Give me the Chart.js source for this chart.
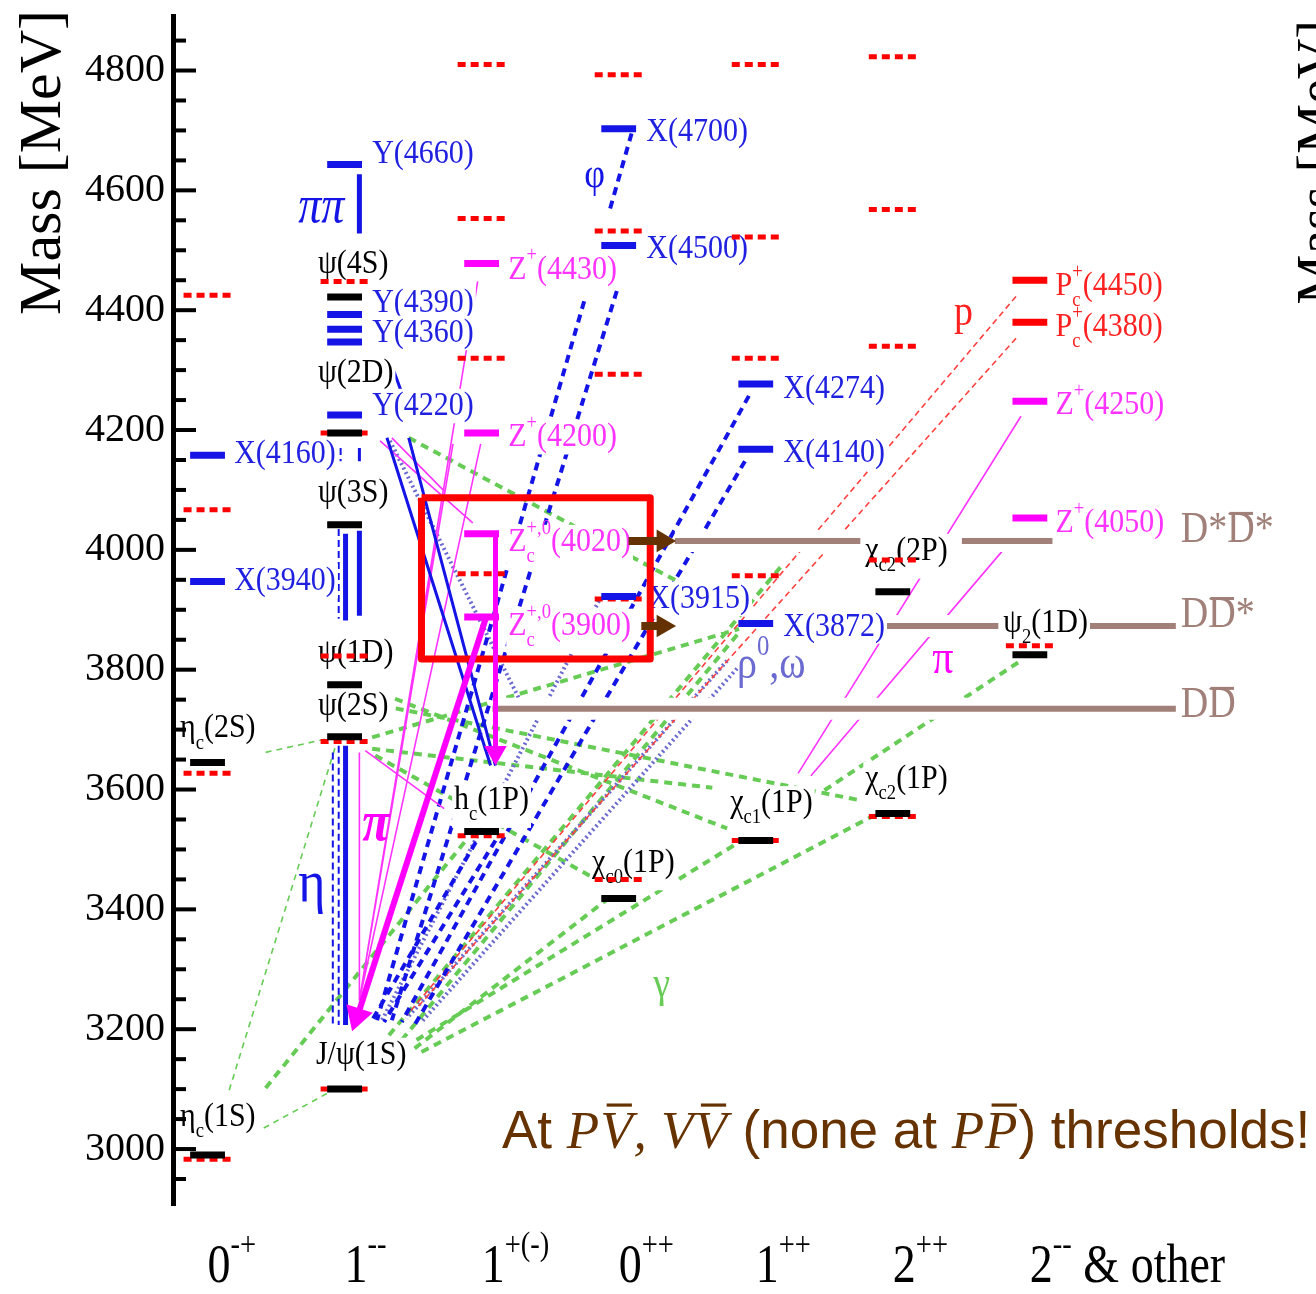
<!DOCTYPE html>
<html>
<head>
<meta charset="utf-8">
<script src="https://cdn.jsdelivr.net/npm/chart.js@4.4.1/dist/chart.umd.min.js"></script>
<style>
  html, body { margin: 0; padding: 0; background: #fff; }
  canvas { display: block; }
</style>
</head>
<body>
<canvas id="levels" width="1316" height="1294"></canvas>
<script>
const SERIF = '"Liberation Serif", "DejaVu Serif", serif';
const SANS = '"Liberation Sans", Arial, sans-serif';
const STRETCH = 1.15;

// J^PC columns along the x axis
const columnLabels = ['0^{-+}', '1^{--}', '1^{+(-)}', '0^{++}', '1^{++}', '2^{++}', '2^{--} & other'];

// levels: [column, mass in MeV]
const charmonia = [[0, 2990], [0, 3645], [1, 3100], [1, 3688], [1, 3775], [1, 4042], [1, 4195], [1, 4422],
  [2, 3530], [3, 3418], [4, 3515], [5, 3560], [5, 3930], [6, 3825]];
const predicted = [[0, 2983], [0, 3627], [0, 4067], [0, 4425], [1, 3100], [1, 3680], [1, 3823], [1, 4195], [1, 4448],
  [2, 3523], [2, 3960], [2, 4320], [2, 4553], [2, 4810], [3, 3450], [3, 3918], [3, 4293], [3, 4532], [3, 4793],
  [4, 3515], [4, 3957], [4, 4320], [4, 4522], [4, 4810], [5, 3555], [5, 3983], [5, 4340], [5, 4568], [5, 4823], [6, 3840]];
const neutralXY = [[0, 4158], [0, 3947], [1, 4643], [1, 4393], [1, 4368], [1, 4347], [1, 4225],
  [3, 4703], [3, 4508], [3, 3922], [4, 4277], [4, 4168], [4, 3877]];
const chargedZ = [[2, 4478], [2, 4195], [2, 4027], [2, 3888], [6, 4248], [6, 4053]];
const pentaquarks = [[6, 4450], [6, 4380]];

// open-charm thresholds
const thresholdMass = [4015, 3873, 3735];
const thresholdSpans = [[[3.41, 4.763], [5.504, 6.165]], [[4.957, 5.77], [6.417, 7.065]], [[2.079, 7.065]]];

// transitions: [column from, mass from, column to, mass to]
const radiative = [[1.511, 3168, 2.906, 3415], [1.525, 3182, 3.863, 3510], [1.561, 3162, 4.849, 3555],
  [0.424, 3102, 1.885, 3515], [1.468, 4187, 3.899, 3890], [1.201, 3687, 3.878, 3868], [1.417, 3182, 3.878, 3862],
  [1.273, 3760, 3.791, 3535], [1.273, 3740, 4.763, 3582], [1.223, 3657, 2.82, 3452], [1.201, 3668, 3.683, 3603],
  [1.324, 3190, 4.187, 3973], [5.914, 3812, 4.496, 3598]];
const radiativeThin = [[0.158, 3098, 0.935, 3673], [0.41, 3035, 0.914, 3098], [0.424, 3662, 0.878, 3685]];
const hadronicDashed = [[3.094, 4695, 2.928, 4562], [2.986, 4432, 1.345, 3215], [2.748, 4415, 1.237, 3215],
  [3.95, 4257, 1.417, 3212], [3.921, 4148, 1.511, 3207], [2.101, 3515, 1.288, 3212], [1.957, 3512, 1.201, 3215]];
const etaDashed = [[0.957, 4035, 0.957, 3885], [0.971, 4170, 0.971, 4148], [0.914, 3662, 0.914, 3207], [0.957, 3673, 0.957, 3207]];
const hadronicSolid = [[1.309, 4187, 2.065, 3640], [1.468, 4187, 2.101, 3640], [1.36, 4298, 1.417, 4262], [1.108, 4170, 1.108, 4148]];
const dipionSolid = [[1.007, 3673, 1.007, 3207], [1.108, 4627, 1.108, 4528], [1.007, 4027, 1.007, 3882], [1.108, 4032, 1.108, 3890]];
const lightMeson = [[3.863, 3802, 1.561, 3212], [3.791, 3815, 1.453, 3218], [2.856, 3915, 1.273, 3215], [1.331, 4182, 2.281, 3748]];
const protonEmission = [[5.899, 4423, 1.453, 3223], [5.899, 4353, 1.525, 3235]];
const pionEmission = [[1.971, 4448, 1.108, 3248], [1.993, 4177, 1.108, 3248], [1.791, 4177, 1.108, 3248],
  [1.259, 4182, 1.935, 4045], [1.345, 4187, 1.727, 4098], [1.151, 3665, 1.727, 3568],
  [5.935, 4223, 4.309, 3627], [5.806, 4000, 4.403, 3623], [1.108, 3662, 1.108, 3248]];

// highlighted decays: shaft [from, to], head centre + a point behind it
const zcShafts = [[2.101, 4027, 2.101, 3662], [2.029, 3885, 1.094, 3222]];
const zcHeads = [[2.101, 3662, 2.101, 4027], [1.091, 3222, 2.029, 3885]];
const openCharmShafts = [[3.072, 4015, 3.3, 4015], [3.165, 3873, 3.3, 3873]];
const openCharmHeads = [[3.324, 4015, 3.0, 4015], [3.324, 3873, 3.0, 3873]];
const boxCorners = [[1.561, 4087], [3.23, 4087], [3.23, 3818], [1.561, 3818], [1.561, 4087]];

// names: [text, column of left edge, mass of text middle]
const charmoniumNames = [['η_c(1S)', -0.201, 3053], ['η_c(2S)', -0.201, 3702], ['J/ψ(1S)', 0.791, 3157],
  ['ψ(2S)', 0.806, 3740], ['ψ(1D)', 0.806, 3828], ['ψ(3S)', 0.806, 4095], ['ψ(2D)', 0.806, 4295], ['ψ(4S)', 0.806, 4477],
  ['h_c(1P)', 1.799, 3582], ['χ_{c0}(1P)', 2.806, 3478], ['χ_{c1}(1P)', 3.813, 3577], ['χ_{c2}(1P)', 4.799, 3618],
  ['χ_{c2}(2P)', 4.799, 3998], ['ψ_2(1D)', 5.806, 3878]];
const xyNames = [['X(4160)', 0.194, 4160], ['X(3940)', 0.194, 3948], ['Y(4660)', 1.201, 4660], ['Y(4390)', 1.201, 4412],
  ['Y(4360)', 1.201, 4362], ['Y(4220)', 1.201, 4240], ['X(4700)', 3.201, 4698], ['X(4500)', 3.201, 4502],
  ['X(3915)', 3.216, 3918], ['X(4274)', 4.201, 4268], ['X(4140)', 4.201, 4162], ['X(3872)', 4.201, 3872]];
const zNames = [['Z^+(4430)', 2.194, 4468], ['Z^+(4200)', 2.194, 4188], ['Z_c^{+,0}(4020)', 2.194, 4013],
  ['Z_c^{+,0}(3900)', 2.194, 3873], ['Z^+(4250)', 6.187, 4242], ['Z^+(4050)', 6.187, 4045]];
const pcNames = [['P_c^+(4450)', 6.187, 4440], ['P_c^+(4380)', 6.187, 4372]];
const thresholdNames = [['D*~D*', 7.101, 4032], ['D~D*', 7.101, 3890], ['D~D', 7.101, 3740]];
const processNames = [['ππ', 0.662, 4570], ['φ', 2.748, 4623], ['η', 0.662, 3440], ['π', 1.129, 3540],
  ['γ', 3.252, 3273], ['p', 5.446, 4395], ['π', 5.288, 3815], ['ρ^0,ω', 3.863, 3807]];
const processColors = ['#1414e6', '#1414e6', '#1414e6', '#ff00ff', '#66cc55', '#ff2020', '#ff00ff', '#6a6ad0'];
const processSizes = [46, 36, 52, 50, 38, 38, 42, 40];
const processStyles = ['italic', '', '', 'italic bold', '', '', '', ''];

const noteRuns = [['At ', 'sans'], ['P', 'math'], ['V', 'mathbar'], [', ', 'math'], ['V', 'math'], ['V', 'mathbar'],
  [' (none at ', 'sans'], ['P', 'math'], ['P', 'mathbar'], [') thresholds!', 'sans']];

function segData(list) {
  const out = [];
  list.forEach(s => { out.push({x: s[0], y: s[1]}, {x: s[2], y: s[3]}, {x: s[2], y: null}); });
  return out;
}
function barData(levels, hw) {
  return segData(levels.map(l => [l[0] - hw, l[1], l[0] + hw, l[1]]));
}
function lineSet(label, data, color, width, dash, order) {
  return {label, data, borderColor: color, backgroundColor: color, borderWidth: width, borderDash: dash || [],
    pointRadius: 0, fill: false, tension: 0, spanGaps: false, borderCapStyle: 'butt', order};
}
function headSet(h, color, r, order) {
  return {label: 'head', data: [{x: h[0], y: h[1]}], showLine: false, pointStyle: 'triangle', pointRadius: r,
    pointBackgroundColor: color, pointBorderColor: color, pointBorderWidth: 0, order,
    pointRotation: ctx => {
      const xs = ctx.chart.scales.x, ys = ctx.chart.scales.y;
      const dx = xs.getPixelForValue(h[0]) - xs.getPixelForValue(h[2]);
      const dy = ys.getPixelForValue(h[1]) - ys.getPixelForValue(h[3]);
      return Math.atan2(dx, -dy) * 180 / Math.PI;
    }};
}

const thresholdSegs = [];
thresholdSpans.forEach((spans, i) => spans.forEach(s => thresholdSegs.push([s[0], thresholdMass[i], s[1], thresholdMass[i]])));

const datasets = [
  lineSet('thin gamma', segData(radiativeThin), '#66cc55', 1.6, [6, 5], 120),
  lineSet('gamma', segData(radiative), '#66cc55', 4, [8, 6], 118),
  lineSet('rho omega', segData(lightMeson), '#6a6ad0', 4, [2, 3], 116),
  lineSet('proton', segData(protonEmission), '#ff4040', 1.6, [6, 4], 114),
  lineSet('pipi dashed', segData(hadronicDashed), '#1414e6', 4, [8, 6], 112),
  lineSet('eta', segData(etaDashed), '#1414e6', 2, [7, 4], 111),
  lineSet('pion', segData(pionEmission), '#ff33ff', 1.6, [], 110),
  lineSet('pipi solid', segData(hadronicSolid), '#1414e6', 3, [], 108),
  lineSet('dipion', segData(dipionSolid), '#1414e6', 5, [], 106),
  lineSet('threshold halo', segData(thresholdSegs), '#ffffff', 22, [], 100),
  lineSet('threshold lines', segData(thresholdSegs), '#a08078', 6, [], 98),
  lineSet('predicted', barData(predicted, 0.175), '#ff0000', 5, [8, 5], 60),
  lineSet('charmonia', barData(charmonia, 0.127), '#000000', 7, [], 55),
  lineSet('XY', barData(neutralXY, 0.127), '#1414e6', 7, [], 54),
  lineSet('Z', barData(chargedZ, 0.127), '#ff00ff', 7, [], 53),
  lineSet('Pc', barData(pentaquarks, 0.127), '#ff0000', 7, [], 52),
  Object.assign(lineSet('box', boxCorners.map(p => ({x: p[0], y: p[1]})), '#ff0000', 7, [], 40), {borderJoinStyle: 'round'}),
  lineSet('zc shaft 4020', segData([zcShafts[0]]), '#ff00ff', 5, [], 30),
  lineSet('zc shaft 3900', segData([zcShafts[1]]), '#ff00ff', 6, [], 30),
  lineSet('open charm', segData(openCharmShafts), '#643200', 8, [], 30),
  headSet(zcHeads[0], '#ff00ff', 13, 29),
  headSet(zcHeads[1], '#ff00ff', 16, 29),
  headSet(openCharmHeads[0], '#643200', 13, 29),
  headSet(openCharmHeads[1], '#643200', 13, 29)
];

function parseRich(s) {
  const parts = [];
  let buf = '';
  const flush = () => { if (buf) { parts.push({t: buf, k: 'n'}); buf = ''; } };
  for (let i = 0; i < s.length; i++) {
    const ch = s[i];
    if (ch === '_' || ch === '^') {
      flush();
      let t;
      if (s[i + 1] === '{') { const j = s.indexOf('}', i); t = s.slice(i + 2, j); i = j; }
      else { t = s[i + 1]; i++; }
      parts.push({t, k: ch === '_' ? 'sub' : 'sup'});
    } else if (ch === '~') {
      flush(); parts.push({t: s[i + 1], k: 'n', bar: true}); i++;
    } else buf += ch;
  }
  flush();
  return parts;
}

function drawRich(ctx, text, x, cy, size, color, o) {
  o = o || {};
  const parts = parseRich(text);
  const fam = o.family || SERIF, sty = o.style || '';
  const k = o.stretch || STRETCH;
  const small = size * 0.62;
  const fnt = s => (sty + ' ' + s + 'px ' + fam).trim();
  ctx.save();
  const widths = parts.map(p => { ctx.font = fnt(p.k === 'n' ? size : small); return ctx.measureText(p.t).width; });
  const pos = [];
  let w = 0;
  for (let i = 0; i < parts.length; i++) {
    const p = parts[i], prev = parts[i - 1];
    if (p.k !== 'n' && prev && prev.k !== 'n' && prev.k !== p.k && !prev.paired) {
      p.paired = true;
      pos.push(pos[i - 1]);
      w += Math.max(0, widths[i] - widths[i - 1]);
    } else { pos.push(w); w += widths[i]; }
  }
  ctx.translate(x, cy);
  ctx.scale(1, k);
  if (o.bg) {
    const hasSub = parts.some(p => p.k === 'sub');
    ctx.fillStyle = '#fff';
    ctx.fillRect(-2, -0.5 * size, w + 4, size + (hasSub ? 0.3 * size : 0));
  }
  ctx.fillStyle = color;
  ctx.textBaseline = 'middle';
  ctx.textAlign = 'left';
  parts.forEach((p, i) => {
    const dy = p.k === 'sub' ? 0.42 * size : p.k === 'sup' ? -0.4 * size : 0;
    ctx.font = fnt(p.k === 'n' ? size : small);
    ctx.fillText(p.t, pos[i], dy);
    if (p.bar) ctx.fillRect(pos[i] + widths[i] * 0.08, -0.43 * size, widths[i] * 0.86, size * 0.07);
  });
  ctx.restore();
  return w;
}

function drawNote(ctx, runs, x, baseline, size, color) {
  ctx.save();
  ctx.fillStyle = color;
  ctx.textBaseline = 'alphabetic';
  ctx.textAlign = 'left';
  let cx = x;
  runs.forEach(r => {
    ctx.font = r[1] === 'sans' ? size + 'px ' + SANS : 'italic ' + size + 'px ' + SERIF;
    ctx.fillText(r[0], cx, baseline);
    const w = ctx.measureText(r[0]).width;
    if (r[1] === 'mathbar') ctx.fillRect(cx + w * 0.2, baseline - size * 0.84, w * 0.78, size * 0.06);
    cx += w + (r[1] === 'sans' ? 0 : 1);
  });
  ctx.restore();
}

function drawVerticalTitle(ctx, text, x, top, size) {
  ctx.save();
  ctx.translate(x, top);
  ctx.rotate(-Math.PI / 2);
  ctx.font = size + 'px ' + SERIF;
  ctx.fillStyle = '#000';
  ctx.textAlign = 'right';
  ctx.textBaseline = 'middle';
  ctx.fillText(text, 0, 0);
  ctx.restore();
}

const levelPlugin = {
  id: 'levelPlugin',
  afterDatasetDraw(chart, args) {
    if (chart.data.datasets[args.index].label !== 'threshold lines') return;
    const ctx = chart.ctx, xs = chart.scales.x, ys = chart.scales.y;
    const put = (list, color, size, bg) => list.forEach(l =>
      drawRich(ctx, l[0], xs.getPixelForValue(l[1]), ys.getPixelForValue(l[2]), size, color, {bg}));
    put(charmoniumNames, '#000', 30, true);
    put(xyNames, '#2020e0', 30, true);
    put(zNames, '#ff33ff', 30, true);
    put(pcNames, '#ff2020', 30, true);
    put(thresholdNames, '#a08078', 38, false);
    processNames.forEach((l, i) =>
      drawRich(ctx, l[0], xs.getPixelForValue(l[1]), ys.getPixelForValue(l[2]), processSizes[i], processColors[i],
        {style: processStyles[i]}));
  },
  afterDraw(chart) {
    const ctx = chart.ctx, xs = chart.scales.x, ys = chart.scales.y;
    const left = chart.chartArea.left;
    ctx.save();
    ctx.strokeStyle = '#000';
    ctx.lineWidth = 4;
    ys.ticks.forEach(t => {
      const py = ys.getPixelForValue(t.value);
      const len = t.value % 200 === 0 ? 23 : 13;
      ctx.beginPath();
      ctx.moveTo(left, py);
      ctx.lineTo(left + len, py);
      ctx.stroke();
    });
    ctx.restore();
    columnLabels.forEach((c, i) => drawRich(ctx, c, xs.getPixelForValue(i), 1268, 46, '#000', {stretch: 1.2}));
    drawVerticalTitle(ctx, 'Mass [MeV]', 44, 10, 60);
    drawVerticalTitle(ctx, 'Mass [MeV]', 1321, 20, 56);
    drawNote(ctx, noteRuns, 502, 1148, 53, '#663300');
  }
};

new Chart(document.getElementById('levels').getContext('2d'), {
  type: 'line',
  data: {datasets},
  options: {
    responsive: false,
    animation: false,
    events: [],
    layout: {padding: {top: 6, bottom: 89, left: 0, right: 0}},
    plugins: {legend: {display: false}, tooltip: {enabled: false}},
    scales: {
      x: {type: 'linear', min: -0.252, max: 7.971, display: false},
      y: {
        type: 'linear', min: 2906.6, max: 4891,
        afterFit(scale) {
          scale.width = 173;
          scale.paddingTop = 0;
          scale.paddingBottom = 0;
        },
        grid: {display: true, drawOnChartArea: false, drawTicks: false},
        border: {display: true, color: '#000', width: 5},
        ticks: {
          stepSize: 50, autoSkip: false, includeBounds: false, padding: 8, color: '#000',
          font: {family: SERIF, size: 40},
          callback: v => (v % 200 === 0 ? String(v) : '')
        }
      }
    }
  },
  plugins: [levelPlugin]
});
</script>
</body>
</html>
